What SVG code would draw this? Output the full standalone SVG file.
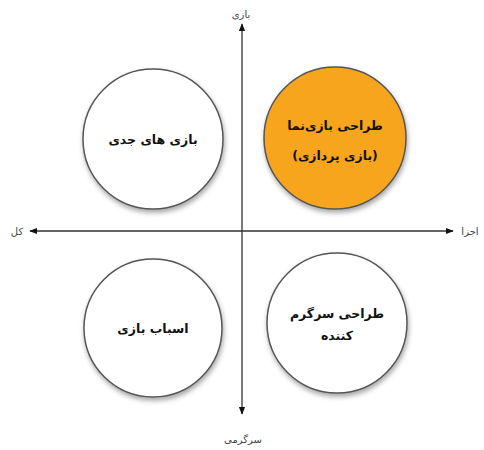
<svg xmlns="http://www.w3.org/2000/svg" width="484" height="450" viewBox="0 0 484 450">
<style>
.node circle{stroke:#555;stroke-width:1.5;filter:url(#sh)}
.w{fill:#fff}
.o{fill:#F6A51E}
text{font-family:"DejaVu Sans",sans-serif;font-weight:bold;font-size:12.5px;fill:#111;text-anchor:middle;direction:rtl}
.ax{font-weight:normal;font-size:10px;fill:#444}
.axis{stroke:#333;stroke-width:1.3;fill:none}
</style>
<defs>
<filter id="sh" x="-20%" y="-20%" width="140%" height="140%">
<feGaussianBlur in="SourceAlpha" stdDeviation="2.5"/>
<feOffset dx="1" dy="3" result="b"/>
<feFlood flood-color="#000" flood-opacity="0.35"/>
<feComposite in2="b" operator="in"/>
<feMerge><feMergeNode/><feMergeNode in="SourceGraphic"/></feMerge>
</filter>
<marker id="ah" viewBox="0 0 10 10" refX="9" refY="5" markerWidth="8" markerHeight="8" orient="auto-start-reverse" markerUnits="userSpaceOnUse">
<path d="M0,1 L10,5 L0,9 Z" fill="#111"/>
</marker>
</defs>
<rect width="484" height="450" fill="#fff"/>
<g id="connectors">
<line class="axis" x1="242" y1="24" x2="242" y2="414" marker-start="url(#ah)" marker-end="url(#ah)"/>
<line class="axis" x1="30" y1="231" x2="453" y2="231" marker-start="url(#ah)" marker-end="url(#ah)"/>
</g>
<g id="n1" class="node"><circle class="w" cx="153" cy="139" r="70"/><text x="153" y="144">بازی های جدی</text></g>
<g id="n2" class="node"><circle class="o" cx="335" cy="138" r="71"/><text x="335" y="130">طراحی بازی‌نما</text><text x="335" y="160">(بازی پردازی)</text></g>
<g id="n3" class="node"><circle class="w" cx="153" cy="328" r="69"/><text x="153" y="333">اسباب بازی</text></g>
<g id="n4" class="node"><circle class="w" cx="337" cy="323" r="70"/><text x="337" y="318">طراحی سرگرم</text><text x="337" y="340">کننده</text></g>
<g id="labels">
<text class="ax" x="241" y="18">بازی</text>
<text class="ax" x="17" y="235">کل</text>
<text class="ax" x="470" y="235">اجزا</text>
<text class="ax" x="243" y="443">سرگرمی</text>
</g>
</svg>
